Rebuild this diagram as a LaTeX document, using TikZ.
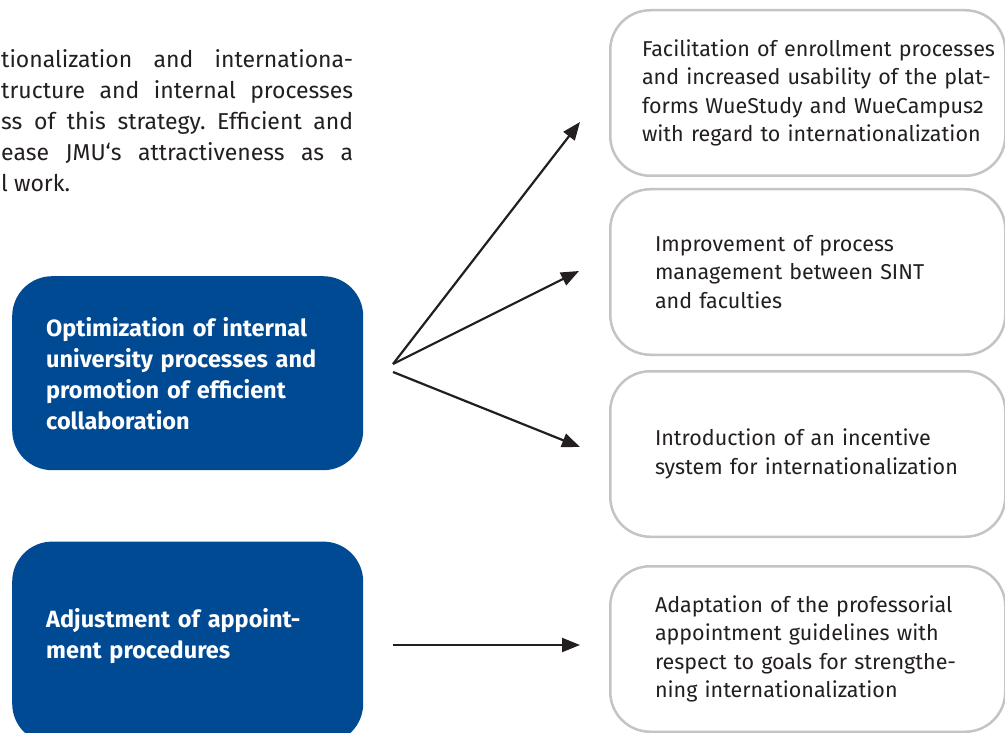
\documentclass[tikz,border=0pt]{standalone}
\usepackage{fontspec}
\setmainfont{Fira Sans}[Numbers=OldStyle]
\usetikzlibrary{positioning}
\usetikzlibrary{arrows.meta}
\definecolor{jmublue}{HTML}{004A93}
\definecolor{boxgray}{HTML}{C4C4C4}
\definecolor{inkgray}{HTML}{231F20}
\frenchspacing
\hbadness=10000
\hfuzz=40pt

\begin{document}
\begin{tikzpicture}[x=1pt, y=-1pt, every node/.style={text=inkgray},
  goal/.style={fill=jmublue, text=white, rounded corners=40pt, minimum width=351pt, minimum height=194pt,
    inner sep=0pt, text width=283pt, align=left, font=\bfseries\fontsize{23.5}{31}\selectfont},
  measure/.style={draw=boxgray, fill=white, line width=2.5pt, rounded corners=40pt, minimum width=395pt,
    minimum height=165.5pt, inner sep=0pt, align=left, font=\fontsize{21.5}{28.4}\selectfont},
  arr/.style={draw=inkgray, line width=2.2pt, -{Triangle[length=18pt, width=14pt]}}]
  \useasboundingbox[fill=white] (0,0) rectangle (1005,733);
  \node[anchor=north west, inner sep=0pt, text width=352pt, align=justify,
    font=\fontsize{23}{31.2}\selectfont] (intro) at (1,49)
    {tionalization and internationa-\linebreak
     tructure and internal processes\linebreak
     ss of this strategy. Efficient and\linebreak
     ease JMU‘s attractiveness as a\linebreak
     l work.};
  % goals
  \node[goal, anchor=north west] (optim) at (12,276)
    {Optimization of internal\\university processes and\\promotion of efficient\\collaboration};
  \node[goal, minimum height=202pt, below=71pt of optim] (adjust)
    {Adjustment of appoint-\\ment procedures\par\vspace*{13pt}};
  % measures
  \node[measure, text width=331.5pt, anchor=north west] (facil) at (609,9)
    {\mbox{Facilitation of enrollment processes}\\\mbox{and increased usability of the plat-}\\
     \mbox{forms WueStudy and WueCampus2}\\\mbox{with regard to internationalization}};
  \begin{scope}[text width=305.5pt]
    \node[measure, below=11pt of facil] (manage)
      {Improvement of process\\management between SINT\\and faculties};
    \node[measure, below=14pt of manage] (incent)
      {Introduction of an incentive\\system for internationalization};
    \node[measure, below=27pt of incent] (adapt)
      {Adaptation of the professorial\\appointment guidelines with\\respect to goals for strengthe-\\ning internationalization};
  \end{scope}
  % arrows
  \coordinate (fork1) at (393,364);
  \coordinate (fork2) at (393,372);
  \coordinate (fork3) at (393,645);
  \coordinate (tipA) at (580,122);
  \coordinate (tipB) at (579,271);
  \coordinate (tipC) at (580,447);
  \coordinate (tipD) at (580,645);
  \draw[arr] (fork1) -- (tipA);
  \draw[arr] (fork1) -- (tipB);
  \draw[arr] (fork2) -- (tipC);
  \draw[arr] (fork3) -- (tipD);
\end{tikzpicture}
\end{document}
